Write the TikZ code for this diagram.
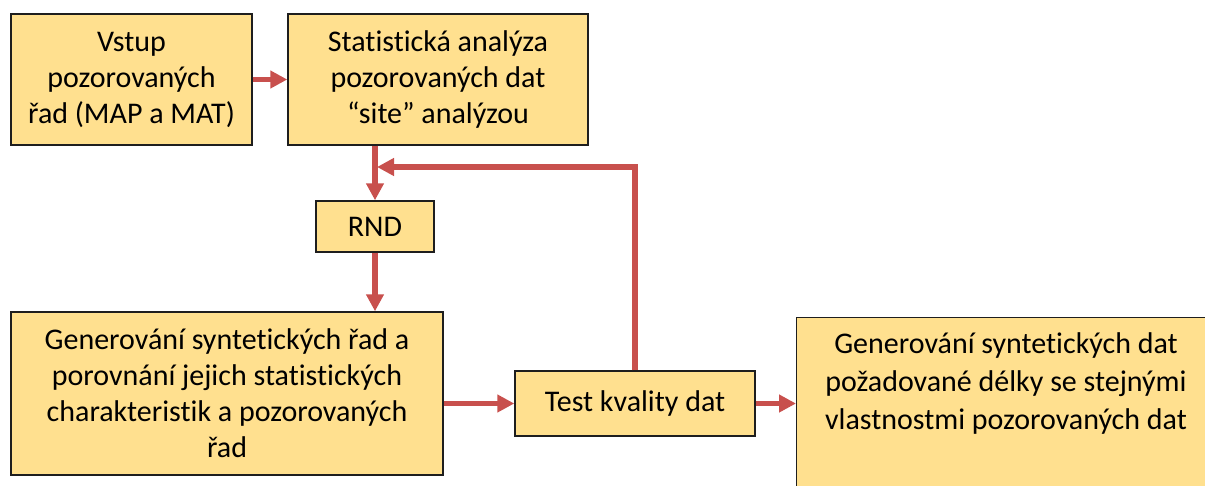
\documentclass[tikz,border=0pt]{standalone}
\usepackage{fontspec}
\setmainfont{Carlito}[Ligatures={NoCommon}]
\usetikzlibrary{arrows.meta}
\definecolor{boxfill}{HTML}{FFE08F}
\definecolor{arrred}{HTML}{C8504D}
\definecolor{boxline}{HTML}{1E1E1E}
\tikzset{
  box/.style={draw=boxline, line width=1.4pt, fill=boxfill, align=center, inner sep=0pt,
    font=\fontsize{30}{36}\selectfont},
  conn/.style={draw=arrred, line width=5.5pt, -{Triangle[length=17pt,width=17pt]}}
}
\begin{document}
\begin{tikzpicture}[x=1pt,y=-1pt]
\useasboundingbox (0,0) rectangle (1205,485);
\begin{scope}
\clip (0,0) rectangle (1205,485);
\node[box, minimum width=241pt, minimum height=131pt] (vstup) at (131.5,79.5) {Vstup\\pozorovaných\\řad (MAP a MAT)};
\node[box, minimum width=300pt, minimum height=131pt] (stat) at (438,79.5) {Statistická analýza\\pozorovaných dat\\“site” analýzou};
\node[box, minimum width=118pt, minimum height=51pt] (rnd) at (375,226.5) {RND};
\node[box, minimum width=432pt, minimum height=163pt] (gen) at (227,393.5) {Generování syntetických řad a\\porovnání jejich statistických\\charakteristik a pozorovaných\\řad};
\node[box, minimum width=240pt, minimum height=65pt] (test) at (635,403.5) {Test kvality dat};
\node[box, minimum width=430pt, minimum height=200pt, anchor=north west] (out) at (796,317) {};
\node[anchor=north, align=center, inner sep=0pt, font=\fontsize{30}{38}\selectfont] (outtext) at (1006,332) {Generování syntetických dat\\požadované délky se stejnými\\vlastnostmi pozorovaných dat};
\end{scope}
\coordinate (fb) at (377,167);
\draw[conn] (vstup.east) -- (stat.west);
\draw[conn] (stat.south -| rnd.north) -- (rnd.north);
\draw[conn] (rnd.south) -- (rnd.south |- gen.north);
\draw[conn] (gen.east |- test.west) -- (test.west);
\draw[conn] (test.east) -- (out.west |- test.east);
\draw[conn] (test.north) |- (fb);
\end{tikzpicture}
\end{document}
